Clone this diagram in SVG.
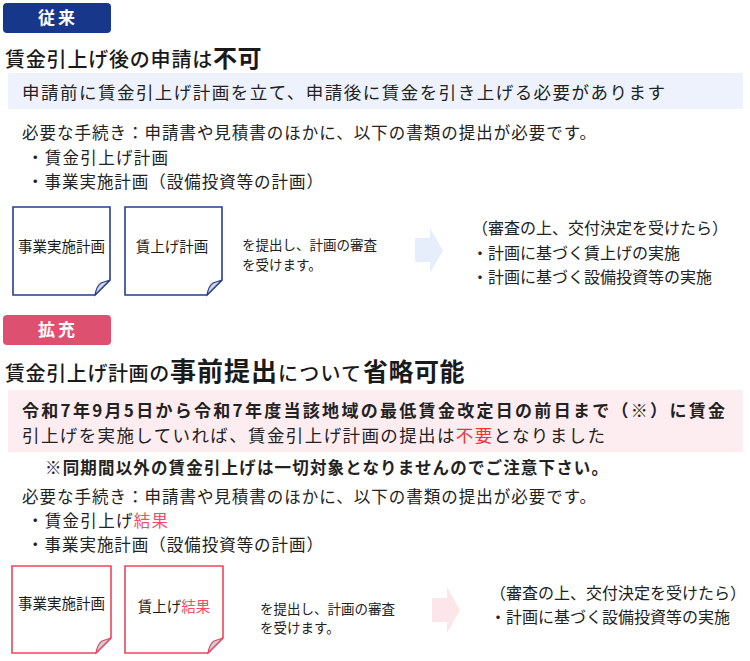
<svg xmlns="http://www.w3.org/2000/svg" width="750" height="661" viewBox="0 0 750 661">
<style>
text{font-family:"Noto Sans CJK JP","Noto Sans",sans-serif;fill:#222}
.badge{font-size:17px;font-weight:700;fill:#fff;letter-spacing:3px}
.t{font-size:20px;font-weight:500;fill:#1a1a1a}
.big{font-weight:700}
.body{font-size:16.5px}
.doc{font-size:14.5px;fill:#1a1a1a}
.small{font-size:13.5px}
.res{font-size:16px}
.red{fill:#ec3340}
.pk{fill:#f0506a}
.docB{fill:#fff;stroke:#243f8f;stroke-width:1.6}
.foldB{fill:#d4d6da;stroke:#243f8f;stroke-width:1.2}
.docR{fill:#fff;stroke:#e8485e;stroke-width:1.6}
.foldR{fill:#c8d2d2;stroke:#e8485e;stroke-width:1.2}
</style>
<rect width="750" height="661" fill="#fff"/>

<g id="badge-jurai">
<rect x="3" y="3" width="108" height="30" rx="4" fill="#17378a"/>
<text class="badge" x="58" y="24" text-anchor="middle">従来</text>
</g>

<g id="title-1">
<text class="t" x="5" y="67"><tspan letter-spacing="0.8">賃金引上げ後の申請は</tspan><tspan x="213" font-size="24" class="big" letter-spacing="0.5">不可</tspan></text>
</g>

<g id="band-1">
<rect x="8" y="73" width="735" height="36" fill="#edf2fc"/>
<text x="22" y="99" font-size="17.5" textLength="643" lengthAdjust="spacing">申請前に賃金引上げ計画を立て、申請後に賃金を引き上げる必要があります</text>
</g>

<g id="procedure-1">
<text class="body" x="22" y="139" textLength="574" lengthAdjust="spacing">必要な手続き：申請書や見積書のほかに、以下の書類の提出が必要です。</text>
<text class="body" x="27" y="164" textLength="141" lengthAdjust="spacing">・賃金引上げ計画</text>
<text class="body" x="27" y="188" textLength="296" lengthAdjust="spacing">・事業実施計画（設備投資等の計画）</text>
</g>

<g id="doc-1a">
<path class="docB" d="M13,207H110V280L95,295H13Z"/>
<path class="foldB" d="M110,280L95,295C96,289 98,285 101,283Z"/>
<text class="doc" x="61.5" y="252" text-anchor="middle">事業実施計画</text>
</g>
<g id="doc-1b">
<path class="docB" d="M125,207H222V280L207,295H125Z"/>
<path class="foldB" d="M222,280L207,295C208,289 210,285 213,283Z"/>
<text class="doc" x="172" y="252" text-anchor="middle">賃上げ計画</text>
</g>

<g id="submit-1">
<text class="small" x="242" y="250">を提出し、計画の審査</text>
<text class="small" x="242" y="270">を受けます。</text>
</g>

<g id="result-1">
<text class="res" x="472" y="234">（審査の上、交付決定を受けたら）</text>
<text class="res" x="472" y="259">・計画に基づく賃上げの実施</text>
<text class="res" x="472" y="283">・計画に基づく設備投資等の実施</text>
</g>

<g id="badge-kakuju">
<rect x="3" y="315" width="108" height="30" rx="4" fill="#de506f"/>
<text class="badge" x="58" y="336" text-anchor="middle">拡充</text>
</g>

<g id="title-2">
<text class="t" x="5" y="381"><tspan letter-spacing="0.6">賃金引上げ計画の</tspan><tspan x="170" font-size="26" class="big" letter-spacing="1">事前提出</tspan><tspan x="278" letter-spacing="1.2">について</tspan><tspan x="363" font-size="25" class="big" letter-spacing="0.5">省略可能</tspan></text>
</g>

<g id="band-2">
<rect x="8" y="390" width="735" height="62" fill="#fdedf0"/>
<text x="22" y="417" font-size="17" font-weight="700" textLength="703" lengthAdjust="spacing">令和7年9月5日から令和7年度当該地域の最低賃金改定日の前日まで（※）に賃金</text>
<text x="22" y="442" font-size="17.5" textLength="583" lengthAdjust="spacing">引上げを実施していれば、賃金引上げ計画の提出は<tspan class="red">不要</tspan>となりました</text>
</g>

<g id="note-2">
<text x="45" y="474" font-size="16.5" font-weight="700" textLength="563" lengthAdjust="spacing">※同期間以外の賃金引上げは一切対象となりませんのでご注意下さい。</text>
</g>

<g id="procedure-2">
<text class="body" x="22" y="503" textLength="574" lengthAdjust="spacing">必要な手続き：申請書や見積書のほかに、以下の書類の提出が必要です。</text>
<text class="body" x="27" y="527" textLength="141" lengthAdjust="spacing">・賃金引上げ<tspan class="pk">結果</tspan></text>
<text class="body" x="27" y="551" textLength="296" lengthAdjust="spacing">・事業実施計画（設備投資等の計画）</text>
</g>

<g id="doc-2a">
<path class="docR" d="M12,566H111V638L96,653H12Z"/>
<path class="foldR" d="M111,638L96,653C97,647 99,643 102,641Z"/>
<text class="doc" x="61.5" y="609" text-anchor="middle">事業実施計画</text>
</g>
<g id="doc-2b">
<path class="docR" d="M125,566H223V638L208,653H125Z"/>
<path class="foldR" d="M223,638L208,653C209,647 211,643 214,641Z"/>
<text class="doc" x="174" y="612" text-anchor="middle">賃上げ<tspan class="pk">結果</tspan></text>
</g>

<g id="submit-2">
<text class="small" x="260" y="614">を提出し、計画の審査</text>
<text class="small" x="260" y="633">を受けます。</text>
</g>

<g id="result-2">
<text class="res" x="490" y="599">（審査の上、交付決定を受けたら）</text>
<text class="res" x="490" y="623">・計画に基づく設備投資等の実施</text>
</g>

<g id="connectors">
<path d="M415,238H430V228L443,250.5L430,273V262H415Z" fill="#e6eefc"/>
<path d="M432,598H447V587L460,610L447,633V622H432Z" fill="#fde6e9"/>
</g>
</svg>
